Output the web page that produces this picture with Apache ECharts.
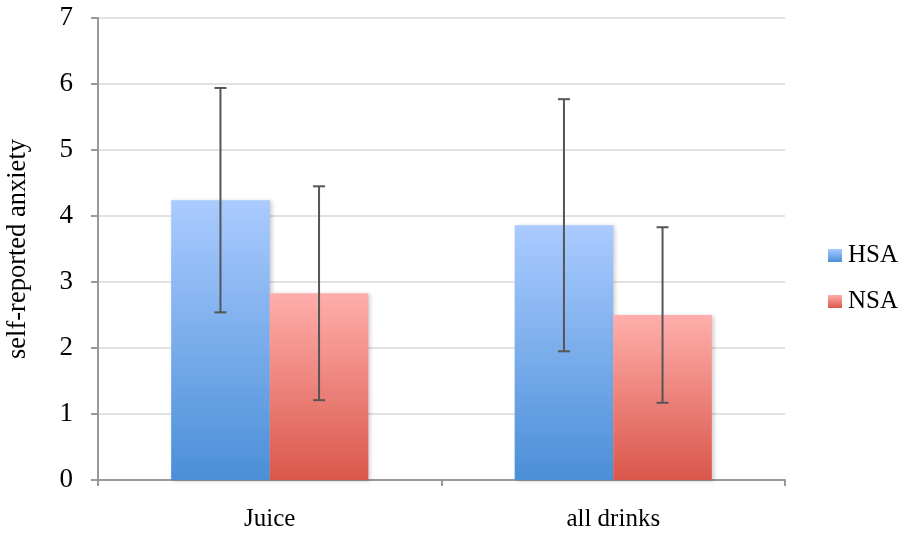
<!DOCTYPE html>
<html><head><meta charset="utf-8">
<script src="https://cdn.jsdelivr.net/npm/echarts@6/dist/echarts.min.js"></script>
<style>html,body{margin:0;padding:0;background:#fff}#c{width:905px;height:536px}</style>
</head><body><div id="c"></div>
<script>
const categories = ['Juice', 'all drinks'];
const seriesNames = ['HSA', 'NSA'];
const hsaMeans = [4.24, 3.86];
const hsaErr = [1.70, 1.91];
const nsaMeans = [2.83, 2.50];
const nsaErr = [1.62, 1.33];

const chart = echarts.init(document.getElementById('c'));
const font = '"Liberation Serif", "Times New Roman", serif';
const gap = 0.426;

function grad(top, bottom){
  return new echarts.graphic.LinearGradient(0,0,0,1,[{offset:0,color:top},{offset:1,color:bottom}]);
}
const hsaColor = grad('#aacbff', '#4b8fd8');
const nsaColor = grad('#ffaeab', '#da574b');

function errData(means, errs){
  return means.map((m,i)=>[i, m - errs[i], m + errs[i]]);
}
function errSeries(name, means, errs, side){
  return {
    type:'custom', name: name + '_err', z: 10, silent:true,
    data: errData(means, errs),
    encode:{x:0, y:[1,2]},
    renderItem: function(params, api){
      const i = api.value(0);
      const lo = api.coord([i, api.value(1)]);
      const hi = api.coord([i, api.value(2)]);
      const band = api.size([1,0])[0];
      const bw = band*(1-gap)/2;
      const x = lo[0] + side*bw/2;
      const cap = 6;
      const st = {stroke:'#555', lineWidth:2, fill:null};
      return {type:'group', children:[
        {type:'line', shape:{x1:x,y1:lo[1],x2:x,y2:hi[1]}, style:st},
        {type:'line', shape:{x1:x-cap,y1:lo[1],x2:x+cap,y2:lo[1]}, style:st},
        {type:'line', shape:{x1:x-cap,y1:hi[1],x2:x+cap,y2:hi[1]}, style:st}
      ]};
    }
  };
}

chart.setOption({
  backgroundColor:'#fff',
  animation:false,
  grid:{left:98, right:120, top:18, bottom:56, containLabel:false, outerBoundsMode:'none'},
  legend:{
    data:[{name:'HSA', itemStyle:{color:hsaColor}},{name:'NSA', itemStyle:{color:nsaColor}}],
    orient:'vertical', left:823, top:238, itemWidth:14, itemHeight:13, itemGap:21,
    textStyle:{fontFamily:font, fontSize:25, color:'#000', padding:[0,0,0,1]}, icon:'rect'
  },
  xAxis:{
    type:'category', data:categories,
    axisLine:{lineStyle:{color:'#999', width:2}},
    axisTick:{show:true, length:6, inside:false, lineStyle:{color:'#999', width:2}},
    axisLabel:{fontFamily:font, fontSize:25, color:'#000', margin:27}
  },
  yAxis:{
    type:'value', min:0, max:7, interval:1,
    name:'self-reported anxiety', nameLocation:'middle', nameGap:66,
    nameTextStyle:{fontFamily:font, fontSize:26.5, color:'#000'},
    axisLine:{show:true, lineStyle:{color:'#999', width:2}},
    axisTick:{show:true, length:7, lineStyle:{color:'#999', width:2}},
    axisLabel:{fontFamily:font, fontSize:27, color:'#000', margin:25},
    splitLine:{lineStyle:{color:'#e2e2e2', width:2}}
  },
  series:[
    {name:'HSA', type:'bar', data:hsaMeans, barGap:'0%', barCategoryGap:(gap*100)+'%',
     itemStyle:{color:hsaColor, shadowBlur:4, shadowColor:'rgba(0,0,0,0.2)', shadowOffsetX:2, shadowOffsetY:1}},
    {name:'NSA', type:'bar', data:nsaMeans, barGap:'0%', barCategoryGap:(gap*100)+'%',
     itemStyle:{color:nsaColor, shadowBlur:4, shadowColor:'rgba(0,0,0,0.2)', shadowOffsetX:2, shadowOffsetY:1}},
    errSeries('HSA', hsaMeans, hsaErr, -1),
    errSeries('NSA', nsaMeans, nsaErr, 1)
  ]
});
</script></body></html>
